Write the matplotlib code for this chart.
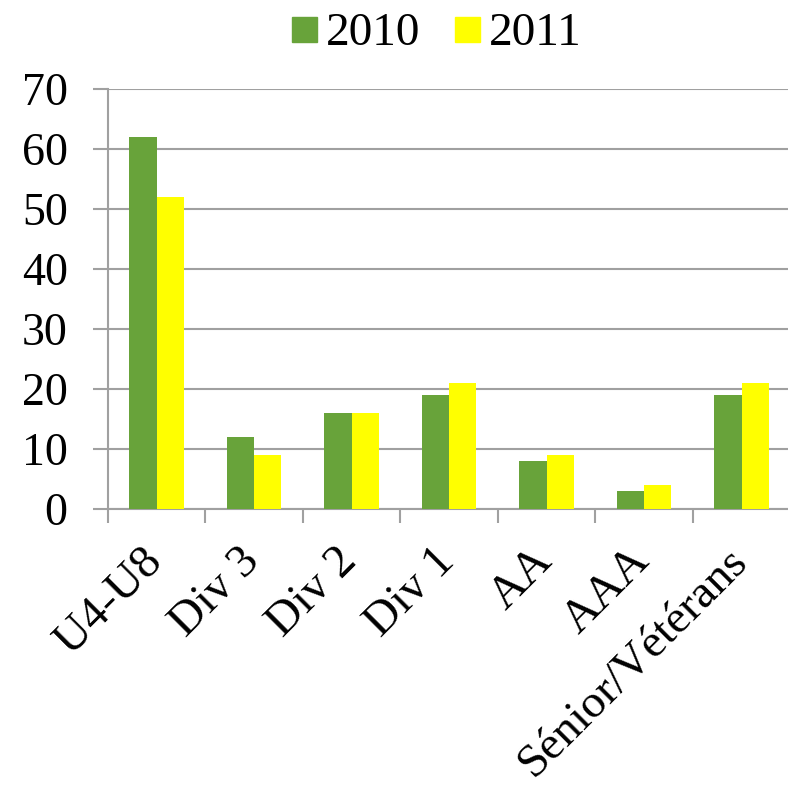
import numpy as np
import matplotlib.pyplot as plt
import matplotlib.transforms as mtransforms
from matplotlib.lines import Line2D

categories = ["U4-U8", "Div 3", "Div 2", "Div 1", "AA", "AAA", "Sénior/Vétérans"]
series_names = ["2010", "2011"]
values_2010 = [62, 12, 16, 19, 8, 3, 19]
values_2011 = [52, 9, 16, 21, 9, 4, 21]
y_ticks = [0, 10, 20, 30, 40, 50, 60, 70]

GREEN = "#68A33A"
YELLOW = "#FFFF00"
GRID = "#A0A0A0"

plt.rcParams["font.family"] = ["Liberation Serif", "DejaVu Serif"]

fig = plt.figure(figsize=(7.88, 7.87), dpi=100)
ax = fig.add_axes([0.137, 0.353, 0.866, 0.534])

x = np.arange(len(categories))
w = 0.28
ax.bar(x - w / 2, values_2010, width=w, color=GREEN, zorder=3)
ax.bar(x + w / 2, values_2011, width=w, color=YELLOW, zorder=3)

ax.set_xlim(-0.5, len(categories) - 0.5)
ax.set_ylim(0, 70)
ax.set_yticks(y_ticks)
ax.set_yticklabels([str(t) for t in y_ticks], fontsize=33)
ax.yaxis.grid(True, color=GRID, linewidth=1.5, zorder=0)
ax.tick_params(axis="y", length=11, width=1.5, color=GRID, pad=18)

# category boundary ticks
ax.set_xticks(np.arange(len(categories) + 1) - 0.5, minor=True)
ax.tick_params(axis="x", which="minor", length=10, width=1.5, color=GRID)
ax.set_xticks(x)
ax.set_xticklabels(categories, fontsize=34, rotation=45, ha="right",
                   rotation_mode="anchor")
ax.tick_params(axis="x", which="major", length=0, pad=22)

# nudge rotated labels a bit left
shift = mtransforms.ScaledTranslation(-16 / 100, 0, fig.dpi_scale_trans)
for lbl in ax.get_xticklabels():
    lbl.set_transform(lbl.get_transform() + shift)

for side in ["top", "right"]:
    ax.spines[side].set_visible(False)
for side in ["left", "bottom"]:
    ax.spines[side].set_color(GRID)
    ax.spines[side].set_linewidth(1.5)

handles = [Line2D([], [], marker="s", linestyle="none", markersize=18,
                  markerfacecolor=c, markeredgecolor=c) for c in (GREEN, YELLOW)]
fig.legend(handles, series_names, loc="center", bbox_to_anchor=(0.553, 0.957),
           ncol=2, frameon=False, fontsize=34, handlelength=0.6,
           handletextpad=0.16, columnspacing=0.7)

fig.savefig("out.png", dpi=100)
